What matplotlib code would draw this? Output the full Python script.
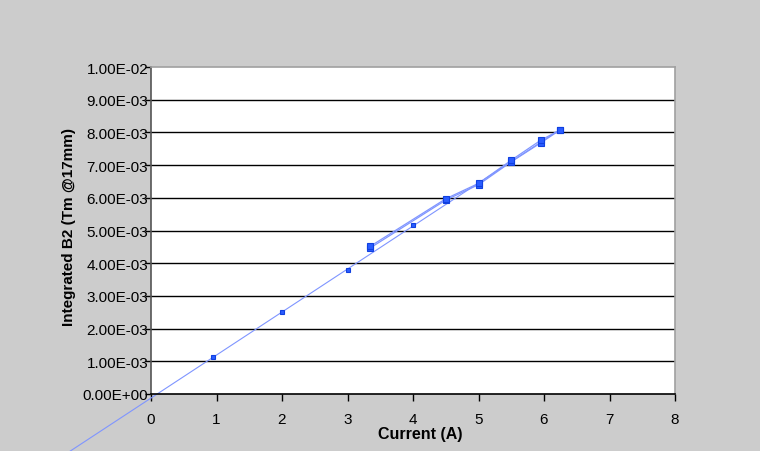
import numpy as np
import matplotlib
matplotlib.use("Agg")
import matplotlib.pyplot as plt
from matplotlib.ticker import FuncFormatter

plt.rcParams['font.family'] = ['Liberation Sans', 'DejaVu Sans']

# Data
ramp_x = [0.95, 2.0, 3.0, 4.0]
ramp_y = [1.14e-3, 2.50e-3, 3.79e-3, 5.16e-3]

up_x = [3.35, 4.5, 5.0, 5.5, 5.95, 6.25]
up_y = [4.47e-3, 5.93e-3, 6.40e-3, 7.10e-3, 7.68e-3, 8.08e-3]

down_x = [6.25, 5.95, 5.5, 5.0, 4.5, 3.35]
down_y = [8.08e-3, 7.76e-3, 7.15e-3, 6.44e-3, 5.97e-3, 4.52e-3]

x_ticks = [0, 1, 2, 3, 4, 5, 6, 7, 8]
y_ticks = [i * 1e-3 for i in range(11)]
trend_range = [-1.35, 6.26]

fig = plt.figure(figsize=(7.6, 4.52), dpi=100)
fig.patch.set_facecolor('#cccccc')
ax = fig.add_axes([151/760, (452-395)/452, 524/760, 327/452])
ax.set_facecolor('white')

# grid
for yt in y_ticks[1:-1]:
    ax.axhline(yt, color='black', lw=1.0, zorder=1)

line_c = '#7f95ff'
mark_fc = '#2a5cff'
mark_ec = '#1040e0'

# trendline (fit on ramp points), extended beyond the axes
coef = np.polyfit(ramp_x, ramp_y, 1)
tx = np.array(trend_range)
ax.plot(tx, np.polyval(coef, tx), color=line_c, lw=0.8, clip_on=False, zorder=2)

ax.plot(up_x, up_y, color=line_c, lw=0.9, marker='s', ms=4.5,
        mfc=mark_fc, mec=mark_ec, mew=0.8, zorder=3)
ax.plot(down_x, down_y, color=line_c, lw=0.9, marker='s', ms=4.0,
        mfc=mark_fc, mec=mark_ec, mew=0.8, zorder=3)
ax.plot(ramp_x, ramp_y, ls='none', marker='s', ms=3.5,
        mfc=mark_fc, mec=mark_ec, mew=0.8, zorder=3)

ax.set_xlim(0, 8)
ax.set_ylim(0, 1e-2)
ax.set_xticks(x_ticks)
ax.set_yticks(y_ticks)
ax.yaxis.set_major_formatter(FuncFormatter(lambda v, p: '%.2E' % v))

ax.tick_params(axis='y', direction='out', length=4, width=1, pad=-2,
               labelsize=11, colors='black')
ax.tick_params(axis='x', direction='out', length=5, width=1, pad=8,
               labelsize=11, colors='black')

for s in ['top', 'right']:
    ax.spines[s].set_color('#a0a0a0')
    ax.spines[s].set_linewidth(1.2)
ax.spines['left'].set_color('#555555')
ax.spines['left'].set_linewidth(1.2)
ax.spines['bottom'].set_color('black')
ax.spines['bottom'].set_linewidth(1.2)

ax.set_xlabel('Current (A)', fontsize=11.5, fontweight='bold')
ax.xaxis.set_label_coords(0.513, -0.098)
ax.set_ylabel('Integrated B2 (Tm @17mm)', fontsize=11, fontweight='bold')
ax.yaxis.set_label_coords(-0.143, 0.514)

fig.savefig('out.png', dpi=100, facecolor=fig.get_facecolor())
